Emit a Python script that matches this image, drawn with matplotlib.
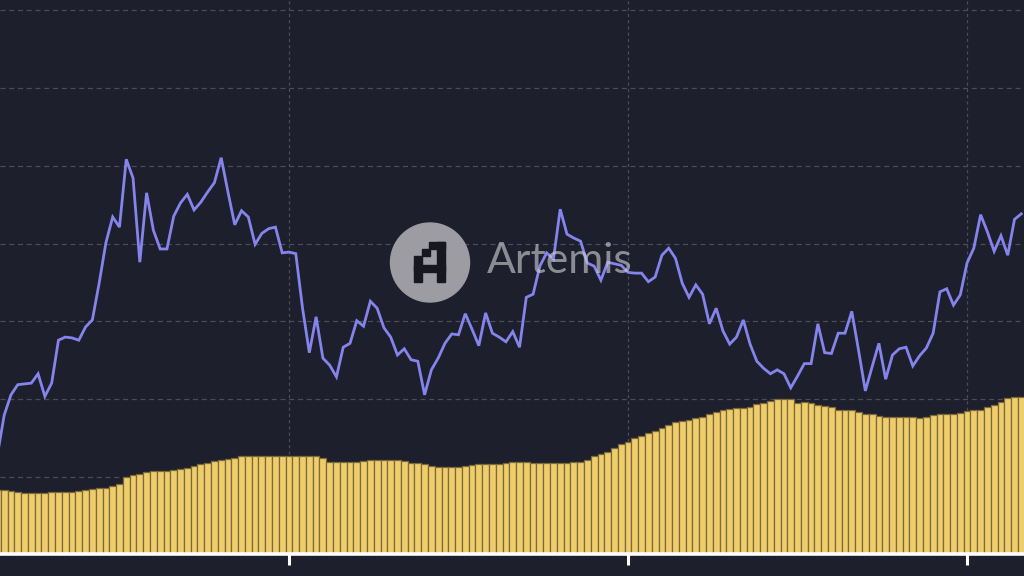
import matplotlib
matplotlib.use("Agg")
import matplotlib.pyplot as plt
from matplotlib.patches import Circle, Rectangle
import numpy as np

# ---- data ----
line_values = [
    12.9, 18.0, 20.6, 21.9, 22.0, 22.1, 23.3, 20.4, 22.1, 27.6,
    28.0, 27.9, 27.6, 29.3, 30.2, 34.9, 40.1, 43.4, 42.1, 50.8,
    48.4, 37.6, 46.5, 41.7, 39.3, 39.3, 43.5, 45.2, 46.3, 44.3,
    45.3, 46.6, 47.8, 51.0, 46.6, 42.4, 44.2, 43.4, 39.9, 41.3,
    41.9, 42.1, 38.8, 38.9, 38.7, 31.7, 26.0, 30.6, 25.3, 24.4,
    22.9, 26.7, 27.2, 30.1, 29.4, 32.6, 31.7, 29.2, 28.0, 25.7,
    26.5, 25.1, 24.9, 20.6, 23.8, 25.3, 27.2, 28.4, 28.3, 31.0,
    29.0, 26.9, 31.1, 28.5, 28.0, 27.4, 28.7, 26.7, 33.1, 33.5,
    37.1, 38.8, 38.0, 44.4, 41.2, 40.7, 40.3, 37.5, 37.1, 35.3,
    37.6, 37.4, 37.2, 36.3, 36.2, 36.2, 35.1, 35.7, 38.5, 39.4,
    38.1, 34.9, 33.1, 34.7, 33.5, 29.7, 31.7, 28.8, 27.1, 28.0,
    30.2, 27.1, 24.9, 24.0, 23.3, 23.8, 23.3, 21.5, 23.0, 24.6,
    24.6, 29.7, 26.0, 25.9, 28.5, 28.5, 31.3, 26.3, 21.1, 24.2,
    27.2, 22.6, 25.7, 26.5, 26.7, 24.3, 25.6, 26.6, 28.5, 33.8,
    34.2, 32.1, 33.4, 37.5, 39.4, 43.7, 41.5, 39.0, 41.0, 38.5,
    43.1, 43.8,
]

bar_values = [
    8.4, 8.4, 8.3, 8.1, 8.05, 8.05, 8.05, 8.05, 8.1, 8.2,
    8.2, 8.2, 8.3, 8.4, 8.5, 8.6, 8.7, 8.9, 9.2, 10.0,
    10.3, 10.5, 10.7, 10.8, 10.8, 10.8, 11.0, 11.1, 11.2, 11.5,
    11.7, 11.9, 12.1, 12.2, 12.4, 12.5, 12.7, 12.8, 12.8, 12.7,
    12.7, 12.7, 12.8, 12.8, 12.8, 12.8, 12.8, 12.7, 12.5, 12.0,
    12.0, 12.0, 12.0, 12.0, 12.1, 12.2, 12.2, 12.2, 12.2, 12.2,
    12.1, 11.9, 11.8, 11.7, 11.5, 11.3, 11.3, 11.3, 11.3, 11.5,
    11.6, 11.7, 11.7, 11.7, 11.7, 11.9, 12.0, 12.0, 12.0, 11.9,
    11.9, 11.9, 11.9, 11.9, 11.9, 12.0, 12.0, 12.3, 12.7, 13.0,
    13.3, 13.8, 14.3, 14.6, 15.1, 15.3, 15.7, 16.0, 16.4, 16.7,
    17.1, 17.3, 17.4, 17.6, 17.8, 18.2, 18.4, 18.6, 18.8, 18.9,
    18.9, 19.1, 19.4, 19.6, 19.8, 20.0, 20.0, 20.0, 19.6, 19.7,
    19.5, 19.3, 19.2, 19.1, 18.7, 18.7, 18.7, 18.4, 18.1, 18.1,
    17.9, 17.8, 17.8, 17.8, 17.7, 17.7, 17.6, 17.8, 18.0, 18.1,
    18.1, 18.2, 18.3, 18.5, 18.6, 18.7, 19.0, 19.3, 19.7, 20.2,
    20.3, 20.3,
]

tick_positions = [43, 93, 143]
grid_levels = [10, 20, 30, 40, 50, 60, 70]

# ---- styling ----
BG = "#1d1f2c"
GRID = "#4a4c5b"
LINE = "#8484ec"
BAR = "#efcd6c"
BAR_EDGE = "#7c6a3a"

W, H = 1024, 576
fig = plt.figure(figsize=(W / 100, H / 100), dpi=100, facecolor=BG)
ax = fig.add_axes([0, (H - 554) / H, 1, 554 / H])
ax.set_facecolor(BG)

x = np.arange(len(line_values))
ax.bar(x, bar_values, width=1.0, color=BAR, edgecolor=BAR_EDGE,
       linewidth=0.9, zorder=2)
ax.plot(x, line_values, color=LINE, linewidth=2.0, zorder=3,
        solid_joinstyle="miter")

ax.set_xlim(0.38, 151.4)
ax.set_ylim(0.19, 71.22)

ax.set_yticks(grid_levels)
ax.set_xticks(tick_positions)
ax.set_xticklabels([])
ax.set_yticklabels([])
ax.tick_params(axis="y", length=0)
ax.tick_params(axis="x", direction="out", length=8, width=2.2, color="white")
ax.grid(axis="y", color=GRID, linestyle=(0, (4, 3)), linewidth=0.9, zorder=1)
ax.grid(axis="x", color=GRID, linestyle=(0, (2.5, 2.5)), linewidth=0.9, zorder=1)
ax.set_axisbelow(True)

for side in ("top", "left", "right"):
    ax.spines[side].set_visible(False)
ax.spines["bottom"].set_color("white")
ax.spines["bottom"].set_linewidth(2.6)
ax.spines["bottom"].set_zorder(4)

# ---- watermark overlay (pixel coordinates) ----
wm = fig.add_axes([0, 0, 1, 1], facecolor="none")
wm.set_xlim(0, W)
wm.set_ylim(H, 0)
wm.axis("off")
wm.add_patch(Circle((430, 262.5), 39.5, color="#9c9ca2", zorder=5))
logo_dark = "#17181f"
for (x0, y0, x1, y1) in [
    (429, 242, 445, 249),
    (422, 249, 429.5, 256),
    (414, 256, 422, 282),
    (437, 242, 445, 282),
    (414, 265, 445, 272),
]:
    wm.add_patch(Rectangle((x0, y0), x1 - x0, y1 - y0, color=logo_dark, zorder=6))

t = wm.text(487, 273, "Artemis", fontsize=24, family=["Lato", "DejaVu Sans"],
            color="#cfcfd4", alpha=0.62, ha="left", va="baseline", zorder=7)
fig.canvas.draw()
bb = t.get_window_extent()
t.set_fontsize(24 * 146.0 / bb.width)

fig.savefig("out.png", dpi=100, facecolor=BG)
